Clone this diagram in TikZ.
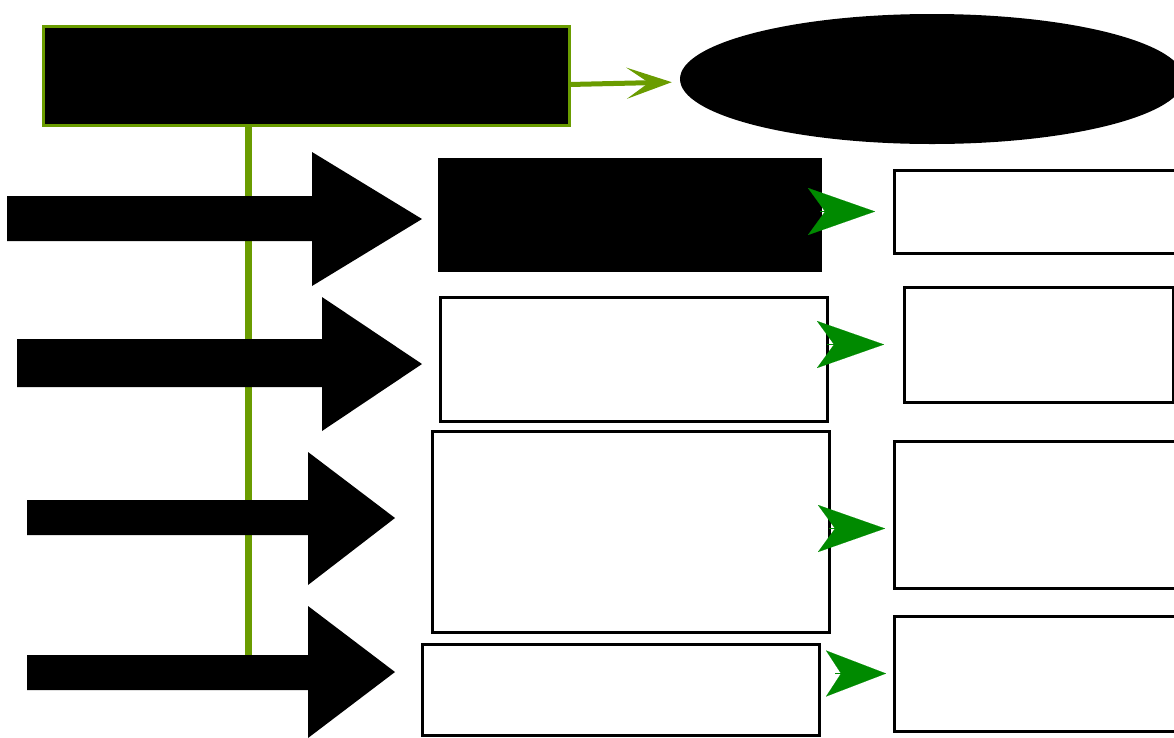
\documentclass[tikz,border=0pt]{standalone}
\usetikzlibrary{shapes.geometric,arrows.meta}
\definecolor{olivegreen}{HTML}{6A9C00}
\definecolor{darkgreen}{HTML}{008A00}
\tikzset{
  box/.style={draw=black, line width=3pt, fill=white, inner sep=0pt, outer sep=0pt, anchor=north west},
  blackbox/.style={box, fill=black},
  blockarrow/.style={fill=black},
  greenline/.style={draw=olivegreen, line width=7pt},
  headarrow/.style={draw=darkgreen, line width=0.05pt, -{Stealth[length=67pt,width=47pt,inset=17pt,fill=darkgreen]}},
}
\begin{document}
\begin{tikzpicture}[x=1pt,y=-1pt]
\useasboundingbox (0,0) rectangle (1174,737);
\clip (0,0) rectangle (1174,737);
% top box and ellipse
\node[box, fill=black, draw=olivegreen, line width=3pt, minimum width=526pt, minimum height=99pt] (top) at (43,26) {};
\node[ellipse, fill=black, minimum width=504pt, minimum height=130pt, inner sep=0pt] (ell) at (932,79) {};
\draw[draw=olivegreen, line width=5pt, -{Stealth[length=45pt,width=31pt,inset=22pt,fill=olivegreen]}, shorten >=8pt]
  ([yshift=-9pt]top.east) -- ([yshift=-3pt]ell.west);
% vertical green line
\coordinate (vbot) at (248,657);
\draw[greenline] (top.south -| vbot) -- (vbot);
% block arrows
\fill[blockarrow] (7,196) -- (312,196) -- (312,152) -- (422,219) -- (312,286) -- (312,241) -- (7,241) -- cycle;
\fill[blockarrow] (17,339) -- (322,339) -- (322,297) -- (422,364) -- (322,431) -- (322,387) -- (17,387) -- cycle;
\fill[blockarrow] (27,500) -- (308,500) -- (308,452) -- (395,518) -- (308,585) -- (308,535) -- (27,535) -- cycle;
\fill[blockarrow] (27,655) -- (308,655) -- (308,606) -- (395,672) -- (308,738) -- (308,690) -- (27,690) -- cycle;
% middle boxes
\node[blackbox, minimum width=381pt, minimum height=111pt] (m1) at (439,159) {};
\node[box, minimum width=387pt, minimum height=124pt] (m2) at (440,297) {};
\node[box, minimum width=397pt, minimum height=201pt] (m3) at (432,431) {};
\node[box, minimum width=397pt, minimum height=91pt] (m4) at (422,644) {};
% right boxes
\node[box, minimum width=300pt, minimum height=83pt] (r1) at (894,170) {};
\node[box, minimum width=269pt, minimum height=115pt] (r2) at (904,287) {};
\node[box, minimum width=300pt, minimum height=147pt] (r3) at (894,441) {};
\node[box, minimum width=300pt, minimum height=115pt] (r4) at (894,616) {};
% green arrowheads
\draw[headarrow, shorten >=19pt] (r1.west -| m1.east) -- (r1.west);
\draw[headarrow, shorten >=20pt] (r2.west -| m2.east) -- (r2.west);
\draw[headarrow, shorten >=9pt] ([yshift=3pt]m3.east) -- ([yshift=3pt]m3.east -| r3.west);
\draw[headarrow, shorten >=8pt, shorten <=16pt, -{Stealth[length=60pt,width=46pt,inset=15pt,fill=darkgreen]}] (r4.west -| m4.east) -- (r4.west);
\end{tikzpicture}
\end{document}
